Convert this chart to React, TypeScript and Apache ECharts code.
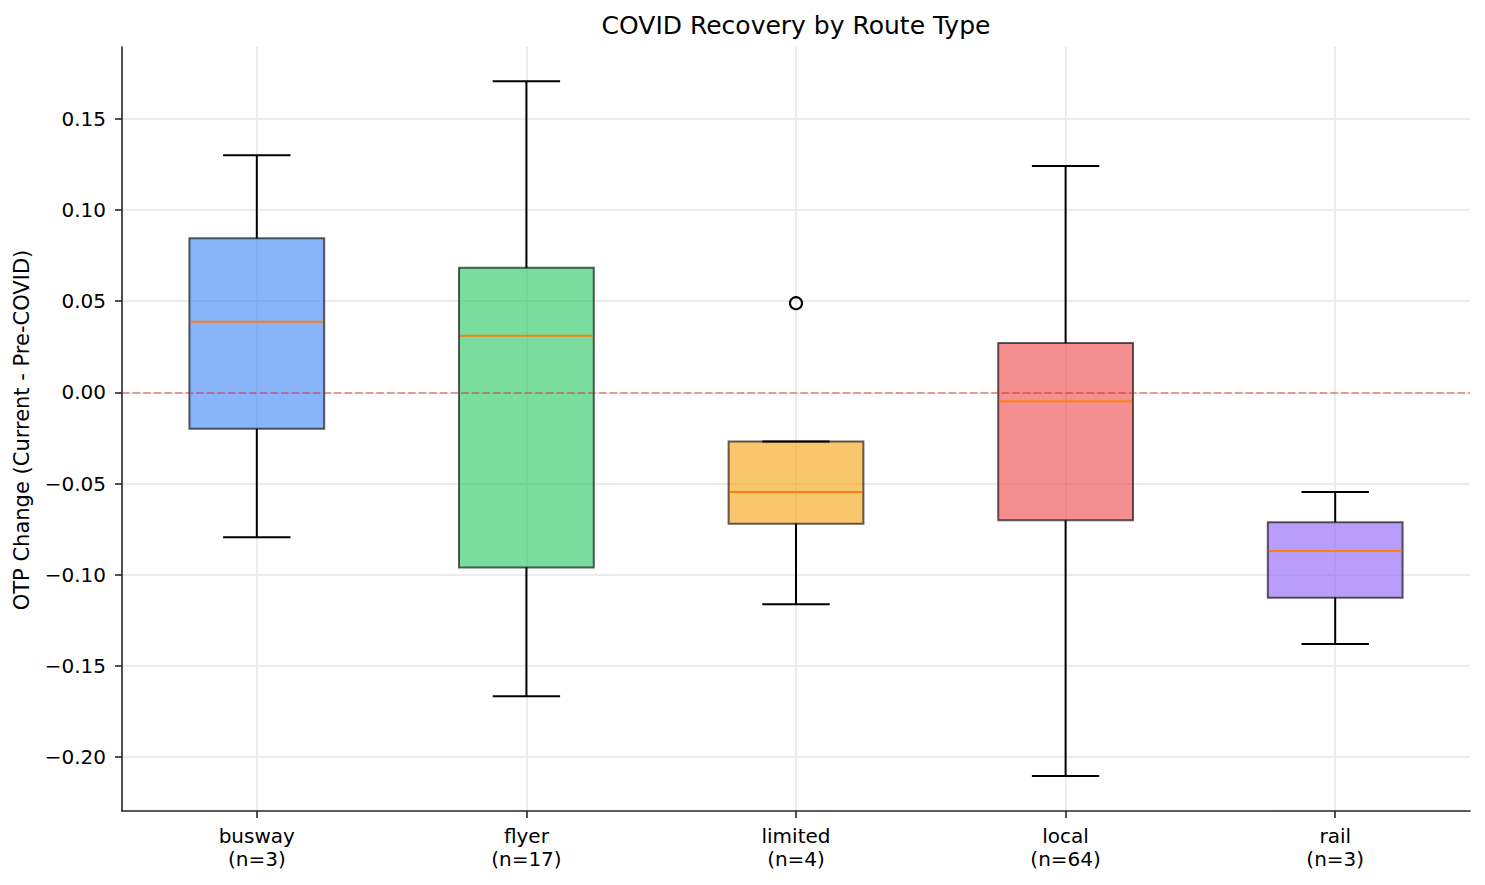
import React, { useEffect, useRef } from "react";
import * as echarts from "echarts";

const categories = ["busway", "flyer", "limited", "local", "rail"];
const counts = [3, 17, 4, 64, 3];
const whiskerLow = [-0.0795, -0.1667, -0.1162, -0.2104, -0.138];
const q1 = [-0.02, -0.096, -0.072, -0.0702, -0.1126];
const median = [0.0387, 0.031, -0.0547, -0.0049, -0.087];
const q3 = [0.0845, 0.0683, -0.027, 0.027, -0.0712];
const whiskerHigh = [0.1301, 0.1706, -0.027, 0.1241, -0.0547];
const outlierCategories = ["limited"];
const outlierValues = [0.0489];
const boxColors = ["#3b82f6", "#22c55e", "#f59e0b", "#ef4444", "#8b5cf6"];
const yTicks = [-0.2, -0.15, -0.1, -0.05, 0, 0.05, 0.1, 0.15];
const yMin = -0.2296;
const yMax = 0.1894;

const FONT = '"DejaVu Sans", Verdana, sans-serif';

function withAlpha(hex: string, a: number) {
  const r = parseInt(hex.slice(1, 3), 16);
  const g = parseInt(hex.slice(3, 5), 16);
  const b = parseInt(hex.slice(5, 7), 16);
  return `rgba(${r},${g},${b},${a})`;
}

function fmtY(v: number) {
  const s = Math.abs(v).toFixed(2);
  return v < -1e-9 ? "\u2212" + s : s;
}

export default function App() {
  const ref = useRef<HTMLDivElement>(null);
  useEffect(() => {
    document.body.style.margin = "0";
    const chart = echarts.init(ref.current!, null, { renderer: "svg" });
    const boxData = categories.map((c, i) => [
      i,
      whiskerLow[i],
      q1[i],
      median[i],
      q3[i],
      whiskerHigh[i],
    ]);
    const outlierData = outlierCategories.map((c, i) => [
      categories.indexOf(c),
      outlierValues[i],
    ]);
    const option: any = {
      animation: false,
      backgroundColor: "#ffffff",
      textStyle: { fontFamily: FONT },
      grid: { left: 122, right: 15, top: 47, bottom: 74, containLabel: false },
      graphic: [
        {
          type: "text",
          x: 796,
          y: 25,
          style: {
            text: "COVID Recovery by Route Type",
            fontSize: 25,
            fontFamily: FONT,
            fill: "#000",
            align: "center",
            verticalAlign: "middle",
            textAlign: "center",
            textVerticalAlign: "middle",
          },
        },
        {
          type: "text",
          x: 22,
          y: 430,
          rotation: Math.PI / 2,
          style: {
            text: "OTP Change (Current - Pre-COVID)",
            fontSize: 21,
            fontFamily: FONT,
            fill: "#000",
            align: "center",
            verticalAlign: "middle",
            textAlign: "center",
            textVerticalAlign: "middle",
          },
        },
      ],
      xAxis: {
        type: "category",
        data: categories,
        boundaryGap: true,
        axisLine: {
          show: true,
          onZero: false,
          lineStyle: { color: "#262626", width: 1.6 },
        },
        axisTick: {
          show: true,
          alignWithLabel: true,
          length: 7,
          lineStyle: { color: "#262626", width: 1.6 },
        },
        axisLabel: {
          show: true,
          margin: 13,
          fontSize: 20,
          lineHeight: 23,
          fontFamily: FONT,
          color: "#000",
          interval: 0,
          formatter: (v: string, idx: number) => `${v}\n(n=${counts[idx]})`,
        },
        splitLine: {
          show: true,
          alignWithLabel: true,
          lineStyle: { color: "#e6e6e6", width: 1.6 },
        },
      },
      yAxis: {
        type: "value",
        min: yMin,
        max: yMax,
        axisLine: { show: true, lineStyle: { color: "#262626", width: 1.6 } },
        axisTick: {
          show: true,
          length: 7,
          customValues: yTicks,
          lineStyle: { color: "#262626", width: 1.6 },
        },
        axisLabel: {
          show: true,
          margin: 16,
          fontSize: 20,
          fontFamily: FONT,
          color: "#000",
          customValues: yTicks,
          formatter: (v: number) => fmtY(v),
        },
        splitLine: { show: true, lineStyle: { color: "#e6e6e6", width: 1.6 } },
      },
      series: [
        {
          type: "custom",
          z: 2,
          data: boxData,
          encode: { x: 0, y: [1, 2, 3, 4, 5] },
          renderItem: (params: any, api: any) => {
            const i = api.value(0);
            const band = api.size([1, 0])[0];
            const bw = band * 0.5;
            const cw = band * 0.25;
            const pLo = api.coord([i, api.value(1)]);
            const pQ1 = api.coord([i, api.value(2)]);
            const pM = api.coord([i, api.value(3)]);
            const pQ3 = api.coord([i, api.value(4)]);
            const pHi = api.coord([i, api.value(5)]);
            const x = pM[0];
            const black = { stroke: "#000", lineWidth: 2, fill: null };
            return {
              type: "group",
              children: [
                {
                  type: "rect",
                  shape: {
                    x: x - bw / 2,
                    y: pQ3[1],
                    width: bw,
                    height: pQ1[1] - pQ3[1],
                  },
                  style: {
                    fill: withAlpha(boxColors[i], 0.6),
                    stroke: "rgba(0,0,0,0.62)",
                    lineWidth: 2,
                  },
                },
                {
                  type: "line",
                  shape: { x1: x, y1: pQ3[1], x2: x, y2: pHi[1] },
                  style: black,
                },
                {
                  type: "line",
                  shape: { x1: x, y1: pQ1[1], x2: x, y2: pLo[1] },
                  style: black,
                },
                {
                  type: "line",
                  shape: { x1: x - cw / 2, y1: pHi[1], x2: x + cw / 2, y2: pHi[1] },
                  style: black,
                },
                {
                  type: "line",
                  shape: { x1: x - cw / 2, y1: pLo[1], x2: x + cw / 2, y2: pLo[1] },
                  style: black,
                },
                {
                  type: "line",
                  shape: { x1: x - bw / 2 + 1, y1: pM[1], x2: x + bw / 2 - 1, y2: pM[1] },
                  style: { stroke: "#ff7f0e", lineWidth: 2 },
                },
              ],
            };
          },
          markLine: {
            silent: true,
            symbol: ["none", "none"],
            label: { show: false },
            lineStyle: {
              color: "rgba(214,39,40,0.55)",
              type: [7.4, 3.2],
              width: 1.6,
            },
            data: [{ yAxis: 0 }],
          },
        },
        {
          type: "scatter",
          z: 3,
          data: outlierData,
          symbol: "circle",
          symbolSize: 12,
          itemStyle: {
            color: "rgba(0,0,0,0)",
            borderColor: "#000",
            borderWidth: 2,
            opacity: 1,
          },
        },
      ],
    };
    chart.setOption(option);
    return () => chart.dispose();
  }, []);
  return <div ref={ref} style={{ width: 1485, height: 885 }} />;
}
